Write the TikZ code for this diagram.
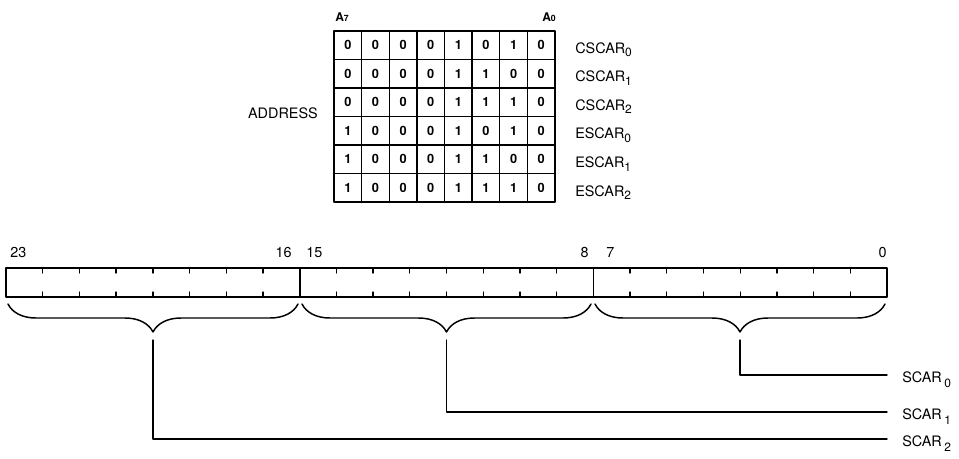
\documentclass[tikz,border=0pt]{standalone}
\usepackage{fontspec}
\setmainfont{TeX Gyre Heros}
\usepackage{tikz}
\usetikzlibrary{calc}
\usetikzlibrary{decorations.pathreplacing}
\newcommand{\lsub}[1]{\raisebox{-2.8pt}{\small #1}}
\newcommand{\wsub}[1]{\,\raisebox{-3.8pt}{\small #1}}
\tikzstyle{every node}=[font=\fontsize{10.8}{13}\selectfont,inner sep=0pt]
\tikzstyle{cell}=[font=\fontsize{9.6}{11}\selectfont\bfseries]
\tikzstyle{pin}=[font=\fontsize{9}{11}\selectfont\bfseries]
\tikzstyle{bytebrace}=[decorate,decoration={brace,mirror,amplitude=21pt},line width=1.1pt]

\begin{document}
\begin{tikzpicture}[line cap=round,line join=round,x=0.75pt,y=-0.75pt]
\useasboundingbox (0,0) rectangle (959,458);
\draw [line width=1.4pt] (334,30.7) rectangle (555,202.3);
\foreach \i in {1,...,7} \draw [line width=1.1pt] ({334+27.625*\i},30.7) -- ++(0,171.6);
\foreach \j in {1,...,5} \draw [line width=1.1pt] (334,{30.7+28.6*\j}) -- ++(221,0);
\foreach \row [count=\r from 0] in {{0,0,0,0,1,0,1,0},{0,0,0,0,1,1,0,0},{0,0,0,0,1,1,1,0},{1,0,0,0,1,0,1,0},{1,0,0,0,1,1,0,0},{1,0,0,0,1,1,1,0}}
  \foreach \v [count=\c from 0] in \row
    \node [cell] (c\r\c) at ({334+27.625*(\c+0.5)},{30.7+28.6*(\r+0.5)}) {\v};
\foreach \t [count=\r from 0] in {CSCAR\lsub{0},CSCAR\lsub{1},CSCAR\lsub{2},ESCAR\lsub{0},ESCAR\lsub{1},ESCAR\lsub{2}}
  \node [anchor=base west] (reg\r) at (575,{30.7+28.6*(\r+0.5)+8}) {\t};
\node [pin,anchor=base west] (a7) at (335,21) {A{\fontsize{6.5}{7}\selectfont 7}};
\node [pin,anchor=base east] (a0) at (556,21) {A{\fontsize{6.5}{7}\selectfont 0}};
\node [anchor=east] (addr) at (318,113) {ADDRESS};
\draw [line width=1.2pt] (6,268) rectangle (887,297);
\draw [line width=1.2pt] (299.7,268) -- (299.7,297) (593.3,268) -- (593.3,297);
\foreach \k in {0,1,2} \foreach \i in {1,...,7}
  \draw [line width=1pt] ({6+293.67*\k+36.71*\i},268) -- ++(0,5) ({6+293.67*\k+36.71*\i},297) -- ++(0,-5);
\node [anchor=base west] (n23) at (10,257) {23};
\node [anchor=base east] (n16) at (292,257) {16};
\node [anchor=base west] (n15) at (306,257) {15};
\node [anchor=base east] (n8) at (589,257) {8};
\node [anchor=base west] (n7) at (606,257) {7};
\node [anchor=base east] (n0) at (887,257) {0};
\draw [bytebrace] (8,304) -- (298,304);
\draw [bytebrace] (302,304) -- (591,304);
\draw [bytebrace] (595,304) -- (885,304);
\coordinate (t2) at (153,340);
\coordinate (t1) at (446.5,340);
\coordinate (t0) at (740,340);
\node [anchor=base west] (scar0) at (902,382.5) {SCAR\wsub{0}};
\node [anchor=base west] (scar1) at (902,419.5) {SCAR\wsub{1}};
\node [anchor=base west] (scar2) at (902,446.5) {SCAR\wsub{2}};
\coordinate (e0) at ($(scar0.base west)+(-15,-7.5)$);
\coordinate (e1) at ($(scar1.base west)+(-15,-7.5)$);
\coordinate (e2) at ($(scar2.base west)+(-15,-7.5)$);
\draw [line width=1pt] (t0) |- (e0);
\draw [line width=1pt] (t1) |- (e1);
\draw [line width=1pt] (t2) |- (e2);
\end{tikzpicture}
\end{document}
